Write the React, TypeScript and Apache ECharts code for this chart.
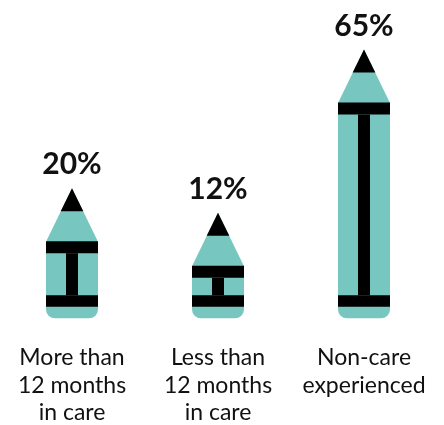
import React, { useEffect, useRef } from "react";
import * as echarts from "echarts";

const categories = ["More than\n12 months\nin care", "Less than\n12 months\nin care", "Non-care\nexperienced"];
const values = [20, 12, 65];

const TEAL = "#77C7C0";
const INK = "#000000";

export default function App() {
  const ref = useRef<HTMLDivElement>(null);
  useEffect(() => {
    const chart = echarts.init(ref.current!, null, { renderer: "svg" });
    chart.setOption({
      animation: false,
      grid: { left: -1, right: 7, top: 25.6, bottom: 122.2, containLabel: false, outerBoundsMode: "none" },
      xAxis: {
        type: "category",
        data: categories,
        axisLine: { show: false },
        axisTick: { show: false },
        splitLine: { show: false },
        axisLabel: {
          fontFamily: "Lato",
          fontSize: 23,
          lineHeight: 27.3,
          color: "#111",
          margin: 40,
          interval: 0,
        },
      },
      yAxis: { type: "value", min: 0, max: 90, show: false, splitLine: { show: false } },
      series: [
        {
          type: "custom",
          data: values.map((v, i) => [i, v]),
          renderItem: (params: any, api: any) => {
            const p = api.coord([api.value(0), api.value(1)]);
            const b = api.coord([api.value(0), 0]);
            const cx = p[0];
            const top = p[1];
            const bottom = b[1] + 15.5;
            const w = 52;
            const l = cx - w / 2;
            const coneH = 53;
            const tipH = 23;
            const tipHalf = (w / 2) * (tipH / coneH);
            return {
              type: "group",
              children: [
                { type: "rect", shape: { x: l, y: top, width: w, height: bottom - top, r: [0, 0, 9, 9] }, style: { fill: TEAL } },
                { type: "polygon", shape: { points: [[l, top + 0.5], [l + w, top + 0.5], [cx, top - coneH]] }, style: { fill: TEAL } },
                { type: "polygon", shape: { points: [[cx - tipHalf, top - coneH + tipH], [cx + tipHalf, top - coneH + tipH], [cx, top - coneH]] }, style: { fill: INK } },
                { type: "rect", shape: { x: l, y: top, width: w, height: 12 }, style: { fill: INK } },
                { type: "rect", shape: { x: cx - 6, y: top + 12, width: 12, height: bottom - 23 - (top + 12) }, style: { fill: INK } },
                { type: "rect", shape: { x: l, y: bottom - 23, width: w, height: 11.5 }, style: { fill: INK } },
                {
                  type: "text",
                  style: {
                    x: cx,
                    y: top - coneH - 26,
                    text: api.value(1) + "%",
                    font: "bold 30px Lato",
                    fill: "#111",
                    align: "center",
                    verticalAlign: "middle",
                  },
                },
              ],
            };
          },
        },
      ],
    });
    return () => chart.dispose();
  }, []);
  return <div ref={ref} style={{ position: "fixed", left: 0, top: 0, width: 444, height: 425 }} />;
}
